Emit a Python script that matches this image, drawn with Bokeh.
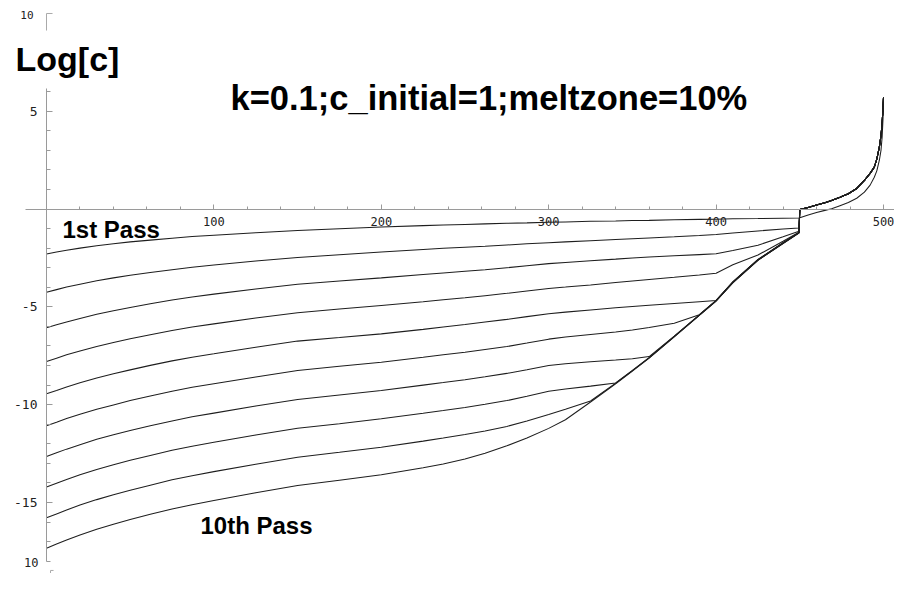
from bokeh.plotting import figure
from bokeh.models import FixedTicker, Label, Range1d
from bokeh.embed import file_html
from bokeh.resources import INLINE

# ---------------- data ----------------
x_main = [0, 6, 12, 20, 30, 40, 50, 62, 75, 87, 100, 125, 150, 175, 200, 225, 237, 250, 262,
          275, 287, 300, 310, 325, 340, 350, 360, 375, 390, 400, 410, 425, 440, 449.5]

pass1 = [-2.30, -2.20, -2.11, -2.00, -1.88, -1.78, -1.68, -1.59, -1.49, -1.41, -1.34, -1.21,
         -1.10, -1.01, -0.92, -0.85, -0.82, -0.79, -0.76, -0.73, -0.71, -0.68, -0.66, -0.63,
         -0.61, -0.59, -0.58, -0.55, -0.53, -0.52, -0.50, -0.49, -0.47, -0.46]
pass2 = [-4.25, -4.12, -3.99, -3.84, -3.67, -3.52, -3.39, -3.24, -3.10, -2.98, -2.86, -2.66,
         -2.48, -2.34, -2.20, -2.07, -2.01, -1.95, -1.90, -1.84, -1.78, -1.72, -1.68, -1.62,
         -1.56, -1.52, -1.48, -1.42, -1.35, -1.30, -1.23, -1.12, -1.02, -0.97]
pass3 = [-6.07, -5.91, -5.77, -5.59, -5.38, -5.20, -5.03, -4.84, -4.65, -4.50, -4.35, -4.09,
         -3.84, -3.68, -3.52, -3.35, -3.27, -3.18, -3.10, -3.00, -2.90, -2.79, -2.73, -2.64,
         -2.56, -2.50, -2.45, -2.39, -2.33, -2.29, -2.12, -1.85, -1.42, -1.14]
pass4 = [-7.79, -7.62, -7.45, -7.25, -7.02, -6.82, -6.63, -6.42, -6.21, -6.03, -5.87, -5.57,
         -5.30, -5.11, -4.93, -4.74, -4.64, -4.54, -4.43, -4.31, -4.19, -4.06, -3.99, -3.88,
         -3.76, -3.68, -3.60, -3.49, -3.37, -3.28, -2.85, -2.35, -1.65, -1.18]
pass5 = [-9.44, -9.27, -9.09, -8.88, -8.63, -8.42, -8.22, -7.99, -7.76, -7.57, -7.40, -7.06,
         -6.75, -6.57, -6.38, -6.15, -6.03, -5.90, -5.77, -5.64, -5.50, -5.35, -5.27, -5.16,
         -5.05, -4.98, -4.92, -4.83, -4.74, -4.68, -3.72, -2.58, -1.72, -1.20]
pass6 = [-11.08, -10.90, -10.71, -10.49, -10.23, -10.01, -9.79, -9.55, -9.31, -9.11, -8.93, -8.58,
         -8.25, -8.04, -7.83, -7.58, -7.45, -7.32, -7.18, -7.03, -6.85, -6.65, -6.54, -6.41,
         -6.28, -6.18, -6.06, -5.84, -5.40, -4.67, -3.73, -2.59, -1.73, -1.21]
pass7 = [-12.65, -12.46, -12.27, -12.04, -11.77, -11.54, -11.32, -11.07, -10.83, -10.62, -10.43, -10.07,
         -9.73, -9.50, -9.27, -9.00, -8.87, -8.72, -8.57, -8.40, -8.21, -8.00, -7.91, -7.81,
         -7.72, -7.65, -7.54, -6.50, -5.41, -4.68, -3.74, -2.60, -1.74, -1.21]
pass8 = [-14.21, -14.01, -13.82, -13.58, -13.31, -13.07, -12.84, -12.59, -12.33, -12.12, -11.92, -11.55,
         -11.20, -10.97, -10.72, -10.44, -10.30, -10.14, -9.98, -9.79, -9.57, -9.31, -9.20, -9.05,
         -8.89, -8.25, -7.59, -6.51, -5.42, -4.69, -3.75, -2.61, -1.75, -1.22]
pass9 = [-15.78, -15.58, -15.38, -15.13, -14.85, -14.60, -14.37, -14.11, -13.84, -13.63, -13.42, -13.04,
         -12.68, -12.43, -12.17, -11.86, -11.70, -11.52, -11.34, -11.11, -10.83, -10.50, -10.23, -9.81,
         -8.90, -8.26, -7.60, -6.52, -5.42, -4.69, -3.76, -2.61, -1.75, -1.22]
pass10 = [-17.33, -17.12, -16.91, -16.66, -16.37, -16.11, -15.87, -15.60, -15.33, -15.11, -14.90, -14.50,
          -14.13, -13.86, -13.58, -13.22, -13.03, -12.78, -12.48, -12.10, -11.70, -11.21, -10.77, -9.86,
          -8.93, -8.28, -7.62, -6.53, -5.43, -4.70, -3.77, -2.62, -1.76, -1.23]

# last molten zone (normal freezing)
x_tail = [450, 455, 460, 465, 469, 474, 479, 484, 488.6, 492, 494.5, 496, 497.5, 498.5, 499.2, 499.7, 500]
tail_first = [-0.45, -0.31, -0.18, -0.07, 0.01, 0.17, 0.33, 0.55, 0.86, 1.22, 1.62, 1.95, 2.48, 3.0, 3.7, 4.6, 5.3]
tail_later = [-0.03, 0.08, 0.20, 0.32, 0.43, 0.60, 0.78, 1.05, 1.46, 1.82, 2.14, 2.55, 3.16, 3.75, 4.4, 5.2, 5.7]

passes = [pass1, pass2, pass3, pass4, pass5, pass6, pass7, pass8, pass9, pass10]

x_major_ticks = [100, 200, 300, 400, 500]
x_minor_ticks = [v for v in range(20, 500, 20) if v % 100 != 0]
y_major_ticks = [-15, -10, -5, 5]
y_minor_ticks = [v for v in range(-18, 7) if v % 5 != 0]
y_tick_labels = {-15: "-15", -10: "-10", -5: "-5", 5: "5"}

# ---------------- figure ----------------
W, H = 894, 573
p = figure(width=W, height=H, x_range=Range1d(-27.48, 506.57), y_range=Range1d(-18.625, 10.654),
           output_backend="svg", toolbar_location=None, min_border=0,
           background_fill_color="white", border_fill_color="white")
p.outline_line_color = None
p.grid.visible = False

axis_col = "#9a9a9a"
label_col = "#222222"

xa = p.xaxis[0]
xa.fixed_location = 0
xa.bounds = (-12.5, 515)
xa.ticker = FixedTicker(ticks=x_major_ticks, minor_ticks=x_minor_ticks)
xa.axis_line_color = axis_col
xa.major_tick_line_color = axis_col
xa.minor_tick_line_color = axis_col
xa.major_tick_in = 5
xa.major_tick_out = 0
xa.minor_tick_in = 3
xa.minor_tick_out = 0
xa.major_label_standoff = 8
xa.major_label_text_font = "DejaVu Sans Mono"
xa.major_label_text_font_size = "12px"
xa.major_label_text_color = label_col

ya = p.yaxis[0]
ya.fixed_location = 0
ya.bounds = (-18, 6.15)
ya.ticker = FixedTicker(ticks=y_major_ticks, minor_ticks=y_minor_ticks)
ya.major_label_overrides = y_tick_labels
ya.axis_line_color = axis_col
ya.major_tick_line_color = axis_col
ya.minor_tick_line_color = axis_col
ya.major_tick_in = 6
ya.major_tick_out = 0
ya.minor_tick_in = 4
ya.minor_tick_out = 0
ya.major_label_standoff = 9
ya.major_label_text_font = "DejaVu Sans Mono"
ya.major_label_text_font_size = "13px"
ya.major_label_text_color = label_col

# curves
for i, ys in enumerate(passes):
    tail = tail_first if i == 0 else tail_later
    p.line(x_main + x_tail, ys + tail, line_color="#1e1e1e", line_width=1.05)

# fragments of neighbouring frame visible in the original image
corner_top_x = [0, 0, 3.6]
corner_top_y = [9.12, 9.99, 9.99]
corner_bot_x = [2.4, 2.4, 4.2]
corner_bot_y = [-18.7, -18.47, -18.47]
p.line(corner_top_x, corner_top_y, line_color="#aaaaaa", line_width=1)
p.line(corner_bot_x, corner_bot_y, line_color="#aaaaaa", line_width=1)


def add_label(sx, sy_top, text, size, bold=True, font="Liberation Sans", align="left",
              baseline="alphabetic", color="black"):
    # sx, sy_top: pixel position measured from the top-left of the figure
    p.add_layout(Label(x=sx, y=H - sy_top, x_units="screen", y_units="screen", text=text,
                       text_font=font, text_font_size=size,
                       text_font_style="bold" if bold else "normal", text_align=align,
                       text_baseline=baseline, text_color=color))


add_label(15, 58.5, "Log[c]", "34px")
add_label(230, 97.5, "k=0.1;c_initial=1;meltzone=10%", "34.5px")
add_label(62, 228.5, "1st Pass", "24px")
add_label(200, 524.5, "10th Pass", "24px")
add_label(33, 14, "10", "11px", bold=False, font="DejaVu Sans Mono", align="right",
          baseline="middle", color=label_col)
add_label(38, 562, "10", "12px", bold=False, font="DejaVu Sans Mono", align="right",
          baseline="middle", color=label_col)

open("out.html", "w").write(file_html(p, INLINE))
